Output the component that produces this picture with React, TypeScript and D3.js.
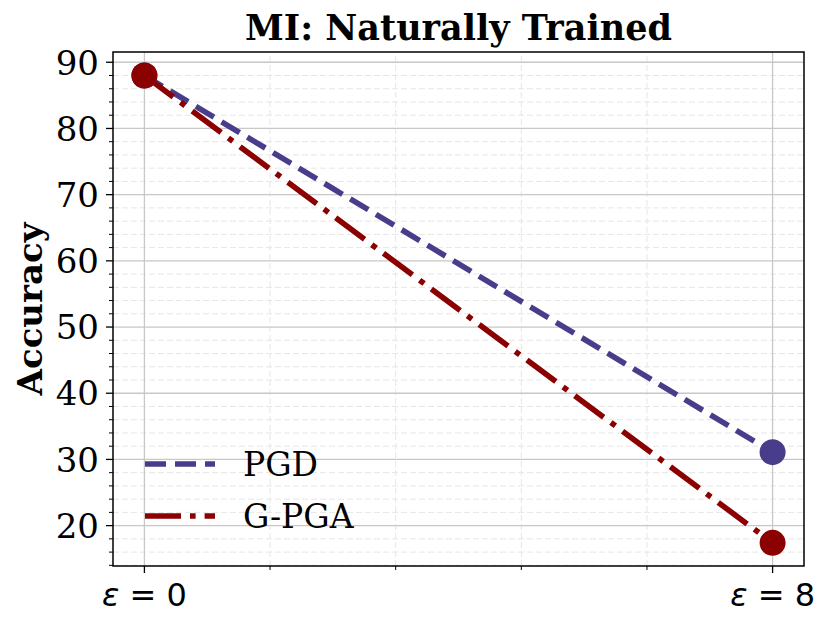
import * as d3 from 'd3';
import React from 'react';

// chart data
const xLabels = ['\u03b5 = 0', '\u03b5 = 8'];
const seriesNames = ['PGD', 'G-PGA'];
const pgdValues = [88.0, 31.1];
const gpgaValues = [88.0, 17.4];
const yTicks = [20, 30, 40, 50, 60, 70, 80, 90];

const width = 830;
const height = 628;
const margin = { top: 52, right: 26, bottom: 62, left: 113 };

const colors = ['#483d8b', '#8b0000'];
const dashes = ['21,9', '36,9,5.6,9'];

function App(): any {
  const xScale = d3.scaleLinear()
    .domain([-0.05, 1.05])
    .range([margin.left, width - margin.right]);
  const yScale = d3.scaleLinear()
    .domain([13.9, 91.55])
    .range([height - margin.bottom, margin.top]);

  const x0 = margin.left;
  const x1 = width - margin.right;
  const y0 = height - margin.bottom;
  const y1 = margin.top;

  const minorY = d3.range(14, 92, 2).filter((v) => v % 10 !== 0);
  const minorX = d3.range(0.2, 1, 0.2);

  const line = d3.line<number>()
    .x((_d, i) => xScale(i))
    .y((d) => yScale(d));

  const allSeries = [pgdValues, gpgaValues];
  const serif = '"DejaVu Serif", serif';

  return (
    <div style={{ position: 'fixed', left: 0, top: 0 }}>
      <svg width={width} height={height} style={{ display: 'block', background: '#fff' }}>
        {/* minor grid */}
        {minorY.map((v) => (
          <line key={'my' + v} x1={x0} x2={x1} y1={yScale(v)} y2={yScale(v)}
            stroke="#e6e6e6" strokeWidth={1} strokeDasharray="6,3" />
        ))}
        {minorX.map((v) => (
          <line key={'mx' + v} x1={xScale(v)} x2={xScale(v)} y1={y0} y2={y1}
            stroke="#e6e6e6" strokeWidth={1} strokeDasharray="6,3" />
        ))}
        {/* major grid */}
        {yTicks.map((v) => (
          <line key={'gy' + v} x1={x0} x2={x1} y1={yScale(v)} y2={yScale(v)}
            stroke="#c8c8c8" strokeWidth={1.3} />
        ))}
        {[0, 1].map((v) => (
          <line key={'gx' + v} x1={xScale(v)} x2={xScale(v)} y1={y0} y2={y1}
            stroke="#c8c8c8" strokeWidth={1.3} />
        ))}

        {/* lines */}
        {allSeries.map((s, i) => (
          <path key={'l' + i} d={line(s) || ''} fill="none" stroke={colors[i]}
            strokeWidth={5.6} strokeDasharray={dashes[i]} />
        ))}
        {allSeries.map((s, i) => s.map((v, j) => (
          <circle key={'c' + i + j} cx={xScale(j)} cy={yScale(v)} r={13} fill={colors[i]} />
        )))}

        {/* axes frame */}
        <rect x={x0} y={y1} width={x1 - x0} height={y0 - y1} fill="none" stroke="#000" strokeWidth={1.5} />

        {/* y ticks */}
        {yTicks.map((v) => (
          <g key={'ty' + v}>
            <line x1={x0} x2={x0 - 7} y1={yScale(v)} y2={yScale(v)} stroke="#000" strokeWidth={1.3} />
            <text x={x0 - 14} y={yScale(v)} dy="0.36em" textAnchor="end"
              fontFamily={serif} fontSize={34}>{v}</text>
          </g>
        ))}
        {minorY.map((v) => (
          <line key={'tmy' + v} x1={x0} x2={x0 - 4} y1={yScale(v)} y2={yScale(v)} stroke="#000" strokeWidth={1} />
        ))}

        {/* x ticks */}
        {[0, 1].map((v) => (
          <g key={'tx' + v}>
            <line x1={xScale(v)} x2={xScale(v)} y1={y0} y2={y0 + 7} stroke="#000" strokeWidth={1.3} />
            <text x={xScale(v)} y={606} textAnchor="middle"
              fontFamily='"DejaVu Sans", sans-serif' fontSize={32}>
              <tspan fontStyle="italic">{'\u03b5'}</tspan>
              <tspan>{xLabels[v].slice(1)}</tspan>
            </text>
          </g>
        ))}
        {minorX.map((v) => (
          <line key={'tmx' + v} x1={xScale(v)} x2={xScale(v)} y1={y0} y2={y0 + 4} stroke="#000" strokeWidth={1} />
        ))}

        {/* title and y label */}
        <text x={(x0 + x1) / 2} y={40} textAnchor="middle" fontFamily={serif}
          fontWeight="bold" fontSize={35}>MI: Naturally Trained</text>
        <text transform={`translate(42,${(y0 + y1) / 2}) rotate(-90)`} textAnchor="middle"
          fontFamily={serif} fontWeight="bold" fontSize={34}>Accuracy</text>

        {/* legend */}
        {seriesNames.map((name, i) => (
          <g key={'lg' + i} transform={`translate(145,${464 + i * 52})`}>
            <line x1={0} x2={70} y1={0} y2={0} stroke={colors[i]} strokeWidth={5.6}
              strokeDasharray={dashes[i]} />
            <text x={98} y={0} dy="0.36em" fontFamily={serif} fontSize={33}>{name}</text>
          </g>
        ))}
      </svg>
    </div>
  );
}

export default App;
